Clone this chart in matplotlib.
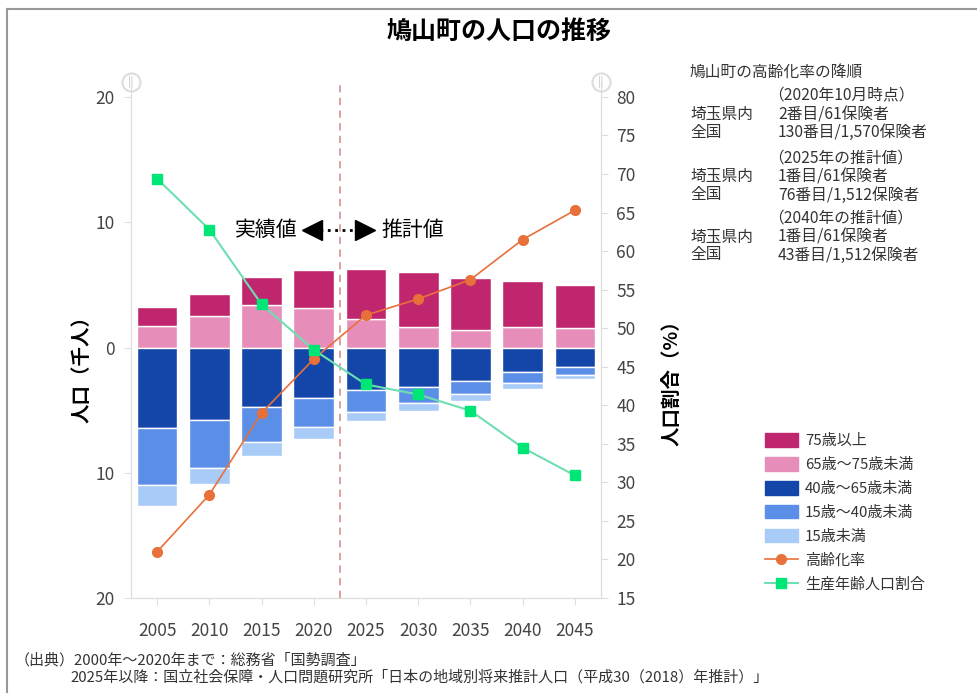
"""鳩山町の人口の推移: stacked population bars with aging / working-age ratio lines"""

import matplotlib.pyplot as plt
from matplotlib.lines import Line2D
from matplotlib.patches import Patch

plt.rcParams["font.family"] = ["Noto Sans CJK JP", "DejaVu Sans"]

years = ["2005", "2010", "2015", "2020", "2025", "2030", "2035", "2040", "2045"]

# population in thousands (upper: 65+, lower: under 65)
age75_over = [1.55, 1.73, 2.23, 3.05, 4.00, 4.39, 4.13, 3.67, 3.41]
age65_75 = [1.70, 2.55, 3.38, 3.17, 2.30, 1.63, 1.39, 1.63, 1.56]
age40_65 = [6.45, 5.75, 4.76, 4.07, 3.40, 3.17, 2.69, 1.97, 1.55]
age15_40 = [4.55, 3.85, 2.77, 2.26, 1.73, 1.30, 1.06, 0.85, 0.65]
age0_15 = [1.65, 1.33, 1.14, 1.01, 0.75, 0.61, 0.53, 0.48, 0.35]

# ratios in %
aging_rate = [21.0, 28.4, 39.0, 46.0, 51.7, 53.8, 56.3, 61.5, 65.3]
working_rate = [69.4, 62.8, 53.1, 47.2, 42.7, 41.4, 39.3, 34.5, 30.9]

labels = ["75歳以上", "65歳～75歳未満", "40歳～65歳未満", "15歳～40歳未満", "15歳未満"]
colors = ["#C0266E", "#E68DBA", "#1446A9", "#5B8EE6", "#A9CBF7"]
c_aging = "#E8703A"
c_working_line = "#6EDFB0"
c_working_mark = "#00E676"
tick_gray = "#444444"
spine_gray = "#DDDDDD"

W, H = 978, 693


def px(x, y):
    return x / W, 1 - y / H


fig = plt.figure(figsize=(9.78, 6.93), dpi=100)
ax = fig.add_axes([131 / W, 1 - 598 / H, (601 - 131) / W, (598 - 82) / H])
ax2 = ax.twinx()

x = list(range(len(years)))
bw = 0.78
neg40_65 = [-v for v in age40_65]
neg15_40 = [-v for v in age15_40]
neg0_15 = [-v for v in age0_15]
b2 = neg40_65
b3 = [a + b for a, b in zip(neg40_65, neg15_40)]

kw = dict(width=bw, edgecolor="white", linewidth=1)
ax.bar(x, age65_75, color=colors[1], **kw)
ax.bar(x, age75_over, bottom=age65_75, color=colors[0], **kw)
ax.bar(x, neg40_65, color=colors[2], **kw)
ax.bar(x, neg15_40, bottom=b2, color=colors[3], **kw)
ax.bar(x, neg0_15, bottom=b3, color=colors[4], **kw)

ax.set_xlim(-0.5, 8.5)
ax.set_ylim(-20, 21.2)
ax.set_yticks([-20, -10, 0, 10, 20])
ax.set_yticklabels(["20", "10", "0", "10", "20"])
ax.set_xticks(x)
ax.set_xticklabels(years)

ax2.plot(x, aging_rate, color=c_aging, lw=1.2, marker="o", ms=7,
         mfc=c_aging, mec=c_aging, zorder=4)
ax2.plot(x, working_rate, color=c_working_line, lw=1.5, marker="s", ms=7,
         mfc=c_working_mark, mec=c_working_mark, zorder=4)
ax2.set_ylim(15, 81.94)
ax2.set_yticks(range(15, 81, 5))

ax2.axvline(3.5, color="#D89A9A", ls=(0, (4, 3)), lw=1.3, zorder=3)

for a in (ax, ax2):
    for s in a.spines.values():
        s.set_color(spine_gray)
    a.spines["top"].set_visible(False)
    a.tick_params(colors=spine_gray, labelcolor=tick_gray, labelsize=12.5, length=5)
ax.tick_params(axis="y", pad=7)
ax.tick_params(axis="x", pad=12)
ax2.tick_params(axis="y", pad=6)

# scroll handles on top of the axis lines
ax.plot([0, 1], [1, 1], transform=ax.transAxes, ls="none", marker="o", ms=13,
        mfc="white", mec="#DDDDDD", mew=1.5, clip_on=False, zorder=6)
for hx in (0, 1):
    ax.text(hx, 1, "||", transform=ax.transAxes, ha="center", va="center",
            fontsize=7, color="#BBBBBB", zorder=7)

# 実績値 <...> 推計値
ay = 9.4
ax.text(2.69, ay, "実績値", ha="right", va="center", fontsize=15)
ax.text(4.29, ay, "推計値", ha="left", va="center", fontsize=15)
ax.plot([3.12, 3.83], [ay, ay], ls=":", color="black", lw=2)
ax.plot([2.97], [ay], marker="<", ms=15, color="black", ls="none")
ax.plot([3.98], [ay], marker=">", ms=15, color="black", ls="none")

fig.text(*px(499, 32), "鳩山町の人口の推移", ha="center", va="center",
         fontsize=18, fontweight="bold")
fig.text(*px(82, 364), "人口（千人）", rotation=90, ha="center", va="center",
         fontsize=14, fontweight="bold")
fig.text(*px(672, 378), "人口割合（%）", rotation=90, ha="center", va="center",
         fontsize=14, fontweight="bold")

# ranking notes
notes = [
    (690, 72, "鳩山町の高齢化率の降順"),
    (768, 96, "（2020年10月時点）"),
    (690, 115, "埼玉県内"), (778, 115, "2番目/61保険者"),
    (690, 132, "全国"), (778, 132, "130番目/1,570保険者"),
    (768, 158, "（2025年の推計値）"),
    (690, 177, "埼玉県内"), (778, 177, "1番目/61保険者"),
    (690, 195, "全国"), (778, 195, "76番目/1,512保険者"),
    (768, 218, "（2040年の推計値）"),
    (690, 237, "埼玉県内"), (778, 237, "1番目/61保険者"),
    (690, 255, "全国"), (778, 255, "43番目/1,512保険者"),
]
for nx, ny, t in notes:
    fig.text(*px(nx, ny), t, ha="left", va="center", fontsize=11.3, color="#333333")

handles = [Patch(color=c) for c in colors] + [
    Line2D([], [], color=c_aging, marker="o", ms=7, lw=1.2),
    Line2D([], [], color=c_working_line, marker="s", ms=7, lw=1.5,
           mfc=c_working_mark, mec=c_working_mark),
]
fig.legend(handles, labels + ["高齢化率", "生産年齢人口割合"], loc="upper left",
           bbox_to_anchor=px(751, 420), frameon=False, fontsize=10.8,
           handlelength=2.2, handleheight=1.0, labelspacing=0.6,
           handletextpad=0.5, labelcolor="#333333")

fig.text(*px(15, 660), "（出典）2000年～2020年まで：総務省「国勢調査」",
         ha="left", va="center", fontsize=10.8, color="#333333")
fig.text(*px(70, 677), "2025年以降：国立社会保障・人口問題研究所「日本の地域別将来推計人口（平成30（2018）年推計）」",
         ha="left", va="center", fontsize=10.8, color="#333333")

# outer frame (top and left edges)
fig.add_artist(Line2D([7 / W, 7 / W], [0, 1 - 9 / H], transform=fig.transFigure,
                      color="#999999", lw=1.5))
fig.add_artist(Line2D([7 / W, 1], [1 - 9 / H, 1 - 9 / H], transform=fig.transFigure,
                      color="#999999", lw=1.5))

fig.savefig("out.png", dpi=100)
